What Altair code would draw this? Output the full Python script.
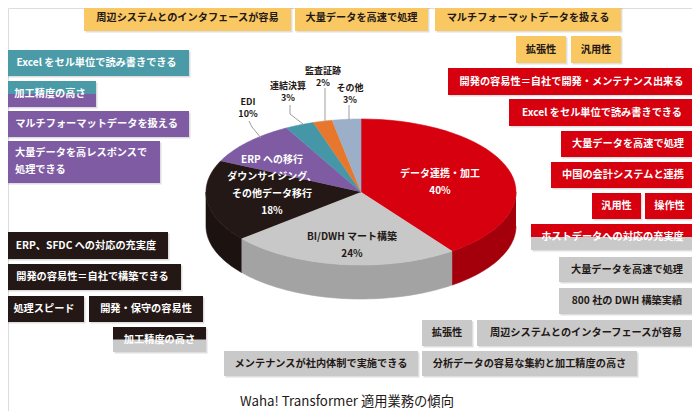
import altair as alt
import pandas as pd

# ---------------- data ----------------
slice_cat = ["データ連携・加工", "BI/DWH マート構築", "ERP への移行・ダウンサイジング、その他データ移行",
             "EDI", "連結決算", "監査証跡", "その他"]
slice_pct = [40, 24, 18, 10, 3, 2, 3]
slice_top = ["#d7000f", "#c8c8c8", "#231815", "#7e5ba3", "#4596a6", "#e8772e", "#9bafc9"]
slice_side = ["#a3000b", "#a3a3a3", "#1c1310", "#5f4480", "#357480", "#b55c22", "#7a8ca3"]

pie_label_text = ["データ連携・加工\n40%", "BI/DWH マート構築\n24%",
                  "ERP への移行\nダウンサイジング、\nその他データ移行\n18%",
                  "EDI\n10%", "連結決算\n3%", "監査証跡\n2%", "その他\n3%"]
pie_label_color = ["#ffffff", "#231815", "#ffffff", "#231815", "#231815", "#231815", "#231815"]
pie_label_inside = [True, True, True, False, False, False, False]

box_text = [
    "周辺システムとのインタフェースが容易", "大量データを高速で処理", "マルチフォーマットデータを扱える",
    "拡張性", "汎用性",
    "開発の容易性＝自社で開発・メンテナンス出来る", "Excel をセル単位で読み書きできる",
    "大量データを高速で処理", "中国の会計システムと連携", "汎用性", "操作性",
    "ホストデータへの対応の充実度",
    "大量データを高速で処理", "800 社の DWH 構築実績", "拡張性",
    "周辺システムとのインターフェースが容易", "分析データの容易な集約と加工精度の高さ",
    "メンテナンスが社内体制で実施できる",
    "ERP、SFDC への対応の充実度", "開発の容易性＝自社で構築できる", "処理スピード",
    "開発・保守の容易性", "加工精度の高さ",
    "Excel をセル単位で読み書きできる", "加工精度の高さ", "マルチフォーマットデータを扱える",
    "大量データを高レスポンスで\n処理できる",
]
Y, R, G, K, T, P = "#fac863", "#d7000f", "#c9c9c9", "#231815", "#4a9ba7", "#7e5ba3"
box_fill = [Y, Y, Y, Y, Y, R, R, R, R, R, R, R, G, G, G, G, G, G, K, K, K, K, K, T, T, P, P]
box_fill2 = ["", "", "", "", "", "", "", "", "", "", "", G, "", "", "", "", "", "", "", "", "", "", G,
             "", P, "", ""]
box_tcolor = [K, K, K, K, K, "#fff", "#fff", "#fff", "#fff", "#fff", "#fff", "#fff",
              K, K, K, K, K, K, "#fff", "#fff", "#fff", "#fff", "#fff", "#fff", "#fff", "#fff", "#fff"]

# ---------------- layout (pixel positions) ----------------
CX, CY, RX, RY, DEPTH, NSEG = 361, 192, 155, 73, 34, 40
pie_label_x = [440, 352, 272, 248, 288, 323, 350]
pie_label_y = [174, 237, 160, 102, 86, 71, 88]

box_x0 = [84, 295, 435, 516, 571, 448, 509, 561, 551, 592, 645, 531, 559, 559, 422, 477, 422, 224,
          4, 4, 4, 89, 113, 4, 4, 4, 4]
box_x1 = [291, 428, 621, 566, 621, 695, 695, 695, 695, 641, 694, 694, 695, 695, 472, 695, 637, 418,
          168, 181, 84, 203, 206, 189, 96, 189, 160]
box_y0 = [4, 4, 4, 36, 36, 68, 99, 131, 162, 193, 193, 224, 257, 288, 320, 320, 351, 351,
          232, 264, 296, 296, 327, 50, 81, 111, 141]
box_y1 = [31, 31, 31, 63, 63, 95, 126, 157, 188, 219, 219, 250, 282, 314, 346, 346, 376, 376,
          259, 290, 322, 322, 352, 76, 107, 137, 183]
box_left = [False] * 26 + [True]

leader_x = [249, 252, 290, 290, 325, 349]
leader_y = [121, 127, 105, 114, 88, 105]
leader_x2 = [252, 261, 290, 303, 325, 349]
leader_y2 = [127, 138, 114, 124, 122, 120]

FONT = "Noto Sans CJK JP"
xs = alt.Scale(domain=[8, 692], nice=False, zero=False)
ys = alt.Scale(domain=[8, 411], nice=False, zero=False, reverse=True)


def X(f):
    return alt.X(f, type="quantitative", scale=xs, axis=None)


def Yc(f):
    return alt.Y(f, type="quantitative", scale=ys, axis=None)


# ---------------- pie ----------------
pie_df = pd.DataFrame({"cat": slice_cat, "pct": slice_pct, "top": slice_top,
                       "side": slice_side, "idx": list(range(len(slice_cat)))})
pie_base = alt.Chart(pie_df).transform_window(
    cum="sum(pct)", sort=[alt.SortField("idx")], frame=[None, 0]
).transform_calculate(
    a0="(datum.cum - datum.pct) / 100 * 2 * PI",
    a1="datum.cum / 100 * 2 * PI",
)

side = pie_base.transform_calculate(
    s0="max(datum.a0, PI / 2)", s1="min(datum.a1, 3 * PI / 2)"
).transform_filter("datum.s1 > datum.s0").transform_calculate(
    k=f"sequence(0, {2 * NSEG + 2})"
).transform_flatten(["k"]).transform_calculate(
    ang=f"datum.k <= {NSEG} ? datum.s0 + (datum.s1 - datum.s0) * datum.k / {NSEG} : "
        f"datum.s1 - (datum.s1 - datum.s0) * (datum.k - {NSEG + 1}) / {NSEG}",
).transform_calculate(
    px=f"{CX} + {RX} * sin(datum.ang)",
    py=f"{CY} - {RY} * cos(datum.ang) + (datum.k > {NSEG} ? {DEPTH} : 0)",
).mark_line(filled=True, strokeWidth=0.6).encode(
    x=X("px"), y=Yc("py"),
    color=alt.Color("side:N", scale=None),
    stroke=alt.Stroke("side:N", scale=None),
    detail="cat:N", order=alt.Order("k:Q"),
)

top = pie_base.transform_calculate(
    k=f"sequence(0, {NSEG + 2})"
).transform_flatten(["k"]).transform_calculate(
    ang=f"datum.a0 + (datum.a1 - datum.a0) * min(datum.k, {NSEG}) / {NSEG}",
).transform_calculate(
    px=f"datum.k > {NSEG} ? {CX} : {CX} + {RX} * sin(datum.ang)",
    py=f"datum.k > {NSEG} ? {CY} : {CY} - {RY} * cos(datum.ang)",
).mark_line(filled=True, strokeWidth=0.6).encode(
    x=X("px"), y=Yc("py"),
    color=alt.Color("top:N", scale=None),
    stroke=alt.Stroke("top:N", scale=None),
    detail="cat:N", order=alt.Order("k:Q"),
)

lab_df = pd.DataFrame({"t": pie_label_text, "c": pie_label_color, "x": pie_label_x,
                       "y": pie_label_y, "inside": pie_label_inside})
lab_in = alt.Chart(lab_df).transform_filter("datum.inside").mark_text(
    font=FONT, fontSize=10, fontWeight="bold", lineBreak="\n", lineHeight=17, baseline="middle"
).encode(x=X("x"), y=Yc("y"), text="t:N", color=alt.Color("c:N", scale=None))
lab_out = alt.Chart(lab_df).transform_filter("!datum.inside").mark_text(
    font=FONT, fontSize=9, fontWeight="bold", lineBreak="\n", lineHeight=12, baseline="middle"
).encode(x=X("x"), y=Yc("y"), text="t:N", color=alt.Color("c:N", scale=None))

lead_df = pd.DataFrame({"x": leader_x, "y": leader_y, "x2": leader_x2, "y2": leader_y2})
leaders = alt.Chart(lead_df).mark_rule(color="#9d9d9d", strokeWidth=1).encode(
    x=X("x"), y=Yc("y"), x2="x2:Q", y2="y2:Q"
)

# ---------------- boxes ----------------
box_df = pd.DataFrame({"t": box_text, "f": box_fill, "f2": box_fill2, "tc": box_tcolor,
                       "x0": box_x0, "x1": box_x1, "y0": box_y0, "y1": box_y1, "left": box_left})
bbase = alt.Chart(box_df).transform_calculate(
    ym="(datum.y0 + datum.y1) / 2", xm="(datum.x0 + datum.x1) / 2", xl="datum.x0 + 11",
    sx0="datum.x0 + 1.5", sx1="datum.x1 + 1.5", sy0="datum.y0 + 1.5", sy1="datum.y1 + 1.5",
)
shadow = bbase.mark_rect(color="#000000", opacity=0.13).encode(
    x=X("sx0"), x2="sx1:Q", y=Yc("sy0"), y2="sy1:Q")
rects = bbase.mark_rect().encode(
    x=X("x0"), x2="x1:Q", y=Yc("y0"), y2="y1:Q", color=alt.Color("f:N", scale=None))
lower = bbase.transform_filter("datum.f2 != ''").mark_rect().encode(
    x=X("x0"), x2="x1:Q", y=Yc("ym"), y2="y1:Q", color=alt.Color("f2:N", scale=None))
btext_c = bbase.transform_filter("!datum.left").mark_text(
    font=FONT, fontSize=10.2, fontWeight="bold", baseline="middle", align="center"
).encode(x=X("xm"), y=Yc("ym"), text="t:N", color=alt.Color("tc:N", scale=None))
btext_l = bbase.transform_filter("datum.left").mark_text(
    font=FONT, fontSize=10.2, fontWeight="bold", baseline="middle", align="left",
    lineBreak="\n", lineHeight=17, dy=12
).encode(x=X("xl"), y=Yc("y0"), text="t:N", color=alt.Color("tc:N", scale=None))

caption = alt.Chart(pd.DataFrame({"t": ["Waha! Transformer 適用業務の傾向"], "x": [347], "y": [402]})).mark_text(
    font=FONT, fontSize=13.3, color="#231815", baseline="middle"
).encode(x=X("x"), y=Yc("y"), text="t:N")

chart = alt.layer(
    side, top, leaders, lab_in, lab_out, shadow, rects, lower, btext_c, btext_l, caption
).properties(
    width=684, height=403, padding=0, autosize=alt.AutoSizeParams(type="none")
).configure_view(stroke=None).configure(background="#ffffff")

chart.save("out.html", embed_options={"renderer": "svg", "actions": False})
